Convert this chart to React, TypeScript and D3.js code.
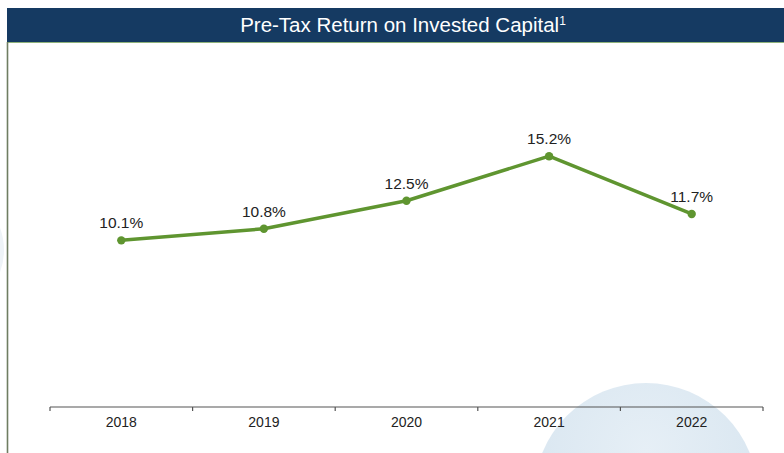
import { useEffect, useRef } from "react";
import * as d3 from "d3";

const years = ["2018", "2019", "2020", "2021", "2022"];
const roic = [10.1, 10.8, 12.5, 15.2, 11.7];

const W = 784;
const H = 453;

export default function App() {
  const ref = useRef<SVGSVGElement | null>(null);

  useEffect(() => {
    const svgEl = ref.current;
    if (!svgEl) return;
    const svg = d3.select(svgEl);
    svg.selectAll("*").remove();
    svg.style("font-family", "'Liberation Sans', Arial, sans-serif");

    const defs = svg.append("defs");
    const grad = defs
      .append("radialGradient")
      .attr("id", "bubble")
      .attr("cx", "50%")
      .attr("cy", "30%")
      .attr("r", "70%");
    grad.append("stop").attr("offset", "0%").attr("stop-color", "#e6eff6");
    grad.append("stop").attr("offset", "100%").attr("stop-color", "#d6e4ef");

    svg.append("rect").attr("width", W).attr("height", H).attr("fill", "#ffffff");

    // decorative background circles
    svg.append("circle").attr("cx", 646).attr("cy", 495).attr("r", 112).attr("fill", "url(#bubble)");
    svg.append("circle").attr("cx", -60).attr("cy", 250).attr("r", 64).attr("fill", "#eef3f7");

    // header bar
    svg.append("rect").attr("x", 7).attr("y", 8).attr("width", W - 7).attr("height", 34).attr("fill", "#153a62");
    svg.append("line").attr("x1", 7).attr("x2", W).attr("y1", 42.5).attr("y2", 42.5).attr("stroke", "#8fb27a").attr("stroke-width", 1);
    svg.append("line").attr("x1", 7.5).attr("x2", 7.5).attr("y1", 42).attr("y2", H).attr("stroke", "#6f7d62").attr("stroke-width", 1.6);

    const title = svg
      .append("text")
      .attr("x", 403)
      .attr("y", 32)
      .attr("text-anchor", "middle")
      .attr("fill", "#ffffff")
      .style("font-size", "20.5px");
    title.append("tspan").text("Pre-Tax Return on Invested Capital");
    title.append("tspan").attr("dy", -7).style("font-size", "12px").text("1");

    const x = d3.scaleBand<string>().domain(years).range([50, 763]);
    const y = d3.scaleLinear().domain([0, 20]).range([407, 77]);

    // axis
    const axis = svg
      .append("g")
      .attr("transform", `translate(0,${y(0)})`)
      .call(
        d3
          .axisBottom(x)
          .tickSize(0)
          .tickPadding(10)
      );
    axis.select(".domain").attr("stroke", "#555").attr("stroke-width", 1.2).attr("d", `M50,0H763`);
    axis.selectAll("text").attr("fill", "#222").style("font-size", "14px").style("font-family", "'Liberation Sans', Arial, sans-serif");
    const bounds = [...years.map((d) => x(d) as number), 763];
    axis
      .selectAll("line.sep")
      .data(bounds)
      .join("line")
      .attr("class", "sep")
      .attr("x1", (d) => d)
      .attr("x2", (d) => d)
      .attr("y1", 0)
      .attr("y2", 4)
      .attr("stroke", "#555")
      .attr("stroke-width", 1.2);

    const cx = (d: string) => (x(d) as number) + x.bandwidth() / 2;
    const pts = years.map((yr, i) => ({ yr, v: roic[i] }));

    const line = d3
      .line<{ yr: string; v: number }>()
      .x((d) => cx(d.yr))
      .y((d) => y(d.v));

    svg
      .append("path")
      .datum(pts)
      .attr("d", line)
      .attr("fill", "none")
      .attr("stroke", "#5f9530")
      .attr("stroke-width", 3.5)
      .attr("stroke-linejoin", "round");

    svg
      .append("g")
      .selectAll("circle")
      .data(pts)
      .join("circle")
      .attr("cx", (d) => cx(d.yr))
      .attr("cy", (d) => y(d.v))
      .attr("r", 4.2)
      .attr("fill", "#5f9530");

    svg
      .append("g")
      .selectAll("text")
      .data(pts)
      .join("text")
      .attr("x", (d) => cx(d.yr))
      .attr("y", (d) => y(d.v) - 12)
      .attr("text-anchor", "middle")
      .attr("fill", "#222")
      .style("font-size", "15.5px")
      .text((d) => `${d.v.toFixed(1)}%`);
  }, []);

  return (
    <div style={{ position: "fixed", left: 0, top: 0, width: W, height: H }}>
      <svg ref={ref} width={W} height={H} style={{ display: "block" }} />
    </div>
  );
}
